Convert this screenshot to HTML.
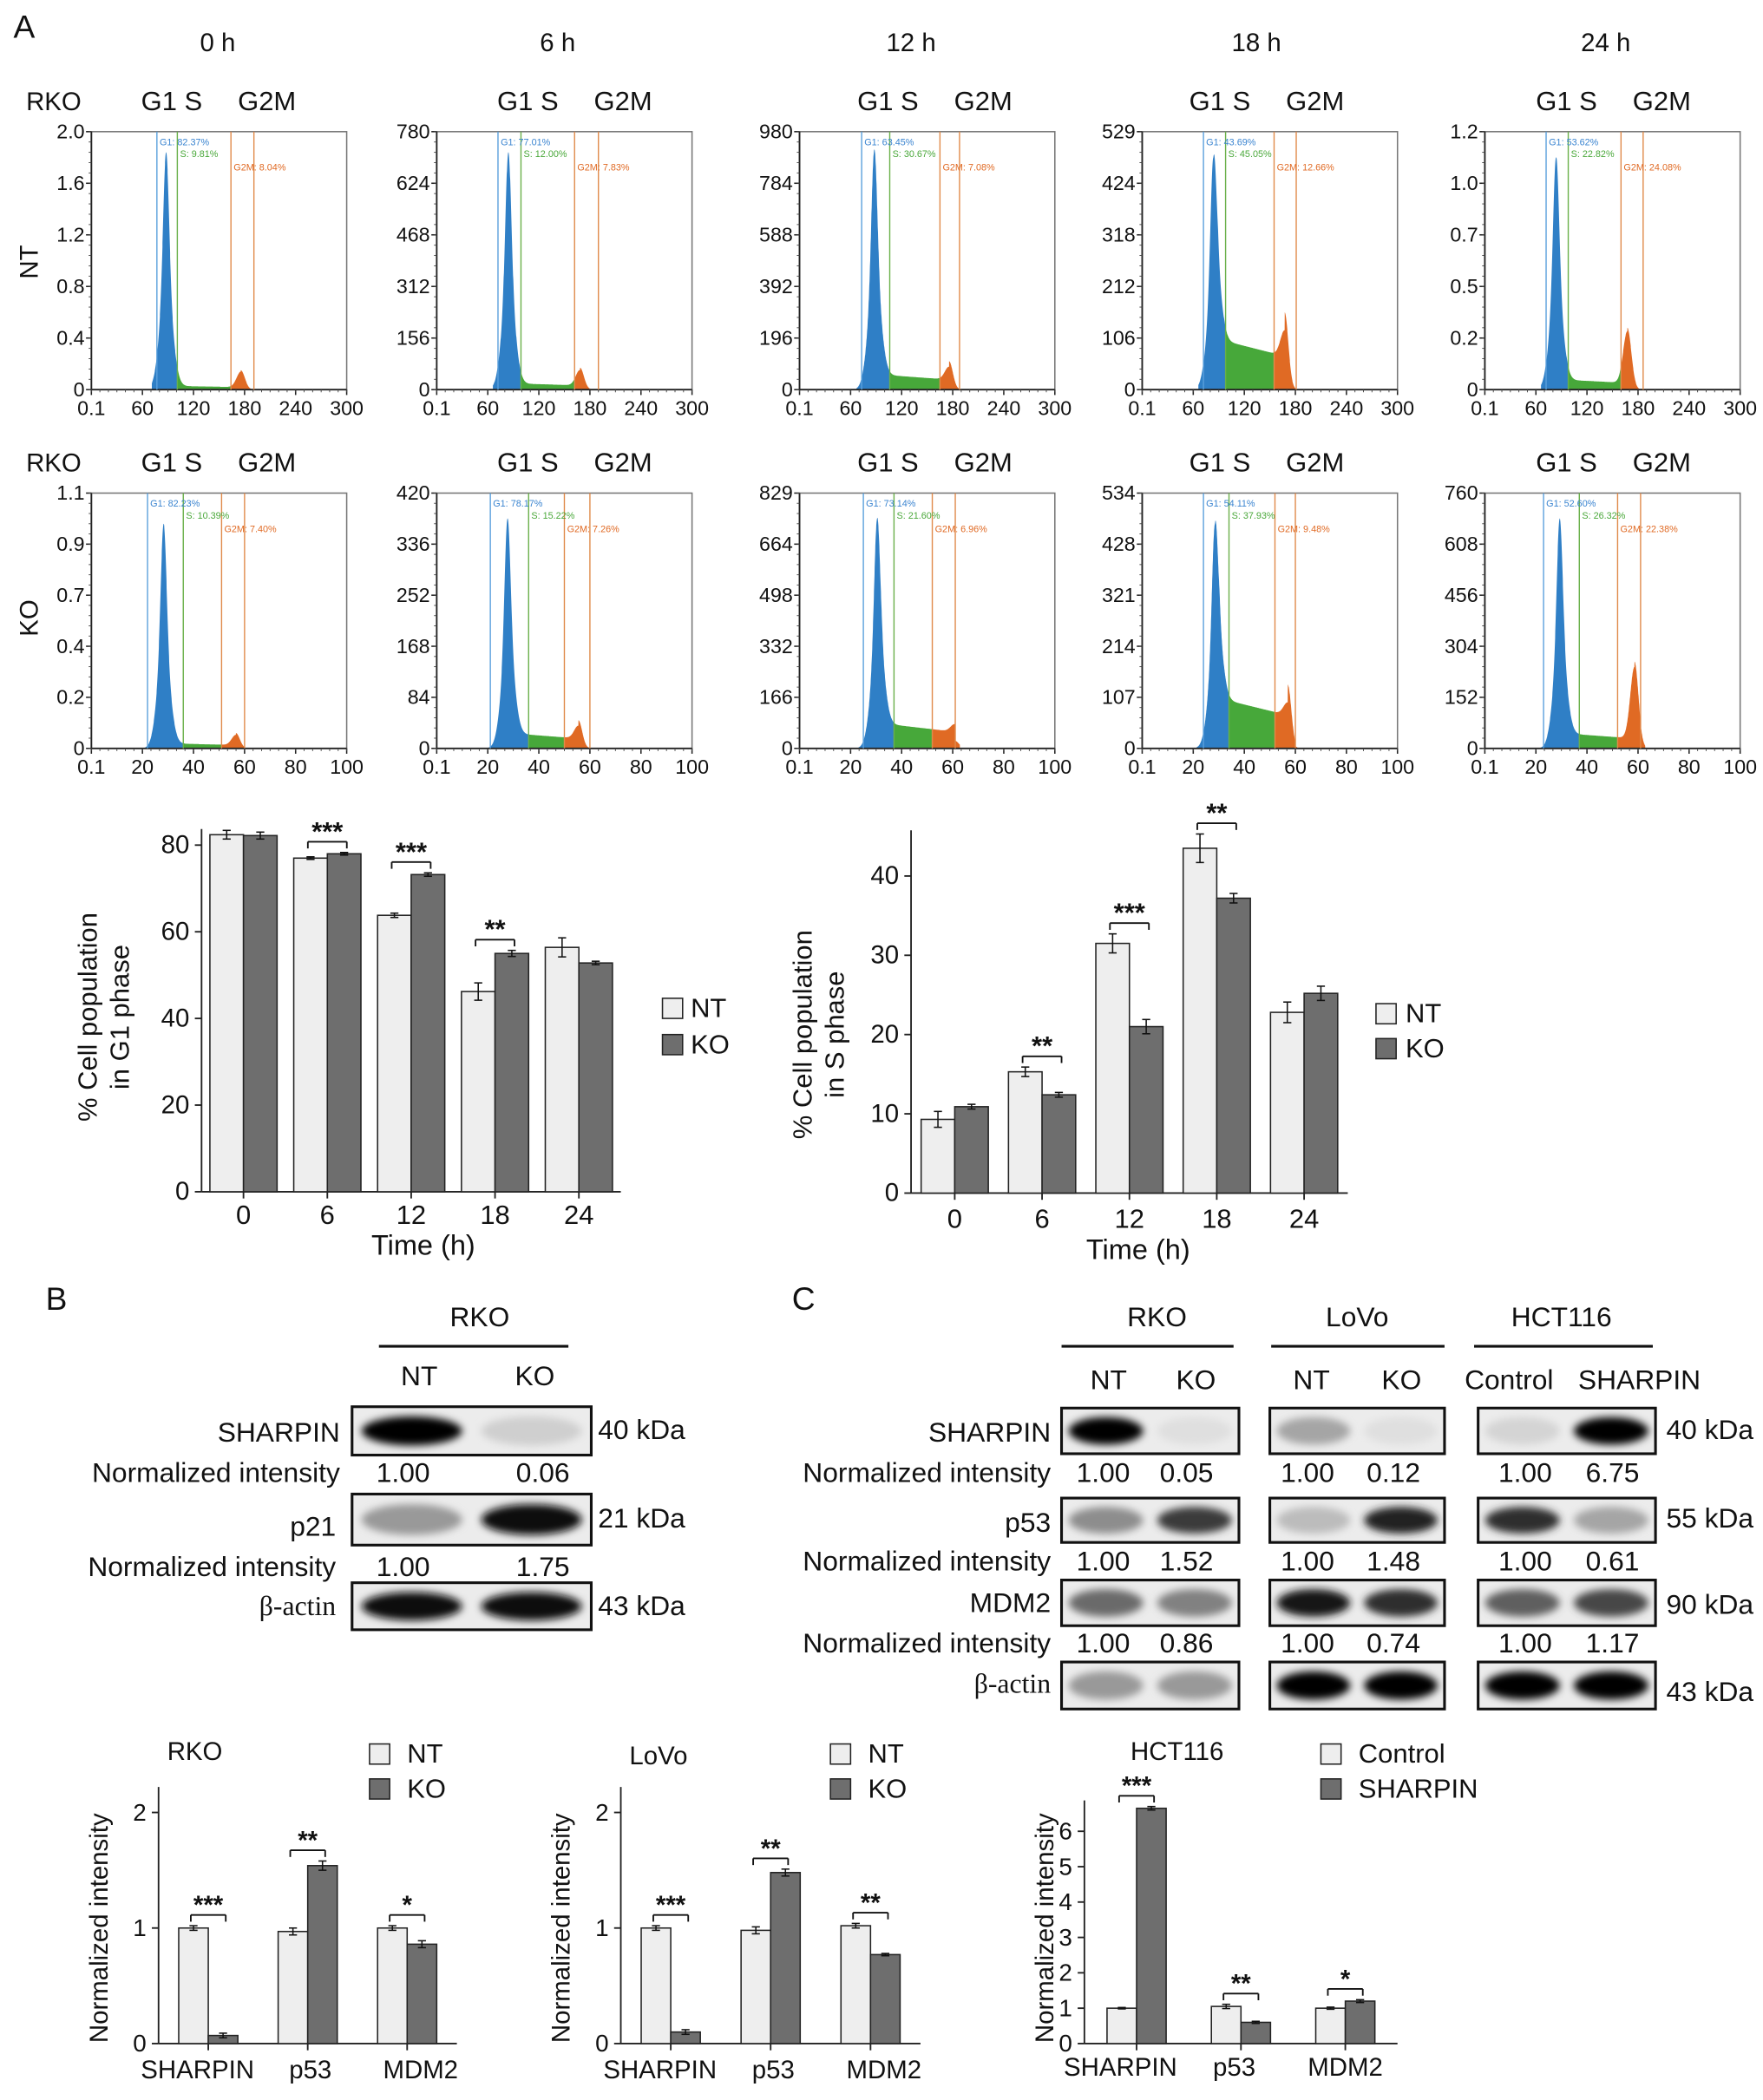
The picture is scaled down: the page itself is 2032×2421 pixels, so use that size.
<!DOCTYPE html>
<html><head><meta charset="utf-8">
<style>
html,body{margin:0;padding:0;background:#fff;}
svg{display:block;font-family:"Liberation Sans",sans-serif;}
text{fill:#111;}
</style></head>
<body>
<svg id="fig" width="2032" height="2421" viewBox="0 0 1312 1563" preserveAspectRatio="none" xmlns="http://www.w3.org/2000/svg">
<defs>
<filter id="blur" x="-30%" y="-50%" width="160%" height="200%"><feGaussianBlur stdDeviation="3"/></filter>
</defs>
</svg>
<script>
// ===== Histogram data =====
const timeLabels = ['0 h','6 h','12 h','18 h','24 h'];
const ntYTicks = [['0','0.4','0.8','1.2','1.6','2.0'],['0','156','312','468','624','780'],['0','196','392','588','784','980'],['0','106','212','318','424','529'],['0','0.2','0.5','0.7','1.0','1.2']];
const koYTicks = [['0','0.2','0.4','0.7','0.9','1.1'],['0','84','168','252','336','420'],['0','166','332','498','664','829'],['0','107','214','321','428','534'],['0','152','304','456','608','760']];
const ntXTicks = ['0.1','60','120','180','240','300'];
const koXTicks = ['0.1','20','40','60','80','100'];
const ntG1Peak = [0.92,0.92,0.93,0.90,0.90];
const ntSLevel = [0.015,0.025,0.06,0.2,0.04];
const ntG2Peak = [0.06,0.06,0.05,0.1,0.2];
const koG1Peak = [0.88,0.90,0.90,0.88,0.90];
const koSLevel = [0.02,0.06,0.1,0.2,0.06];
const koG2Peak = [0.04,0.05,0.03,0.05,0.28];
const ntGates = [[77,101,164,191],[72,99,162,190],[73,106,165,188],[72,98,155,181],[72,98,160,186]];
const koGates = [[22,36,51,60],[21,36,50,60],[25,37,52,61],[24,34,52,60],[23,37,52,61]];
const ntPct = [['82.37','9.81','8.04'],['77.01','12.00','7.83'],['63.45','30.67','7.08'],['43.69','45.05','12.66'],['53.62','22.82','24.08']];
const koPct = [['82.23','10.39','7.40'],['78.17','15.22','7.26'],['73.14','21.60','6.96'],['54.11','37.93','9.48'],['52.60','26.32','22.38']];

// ===== Bar chart data =====
const timeCats = ['0','6','12','18','24'];
const g1NT = [82.4,77.0,63.8,46.2,56.4];
const g1KO = [82.2,78.0,73.2,55.0,52.8];
const g1NTerr = [1.0,0.3,0.5,2.0,2.2];
const g1KOerr = [0.8,0.3,0.4,0.7,0.4];
const g1Sig = ['','***','***','**',''];
const g1Ticks = [0,20,40,60,80];
const sNT = [9.3,15.3,31.5,43.5,22.8];
const sKO = [10.9,12.4,21.0,37.2,25.2];
const sNTerr = [1.0,0.6,1.2,1.8,1.3];
const sKOerr = [0.3,0.3,0.9,0.6,0.9];
const sSig = ['','**','***','**',''];
const sTicks = [0,10,20,30,40];
const protCats = ['SHARPIN','p53','MDM2'];
const rkoNT = [1.00,0.97,1.00];
const rkoKO = [0.07,1.54,0.86];
const rkoNTerr = [0.02,0.03,0.02];
const rkoKOerr = [0.02,0.04,0.03];
const rkoSig = ['***','**','*'];
const lovoNT = [1.00,0.98,1.02];
const lovoKO = [0.10,1.48,0.77];
const lovoNTerr = [0.02,0.03,0.02];
const lovoKOerr = [0.02,0.03,0.01];
const lovoSig = ['***','**','**'];
const hctNT = [1.00,1.05,1.00];
const hctKO = [6.65,0.60,1.20];
const hctNTerr = [0.02,0.06,0.03];
const hctKOerr = [0.05,0.03,0.04];
const hctSig = ['***','**','*'];
const protTicks2 = [0,1,2];
const protTicks6 = [0,1,2,3,4,5,6];

const svg = document.getElementById('fig');
const NS = 'http://www.w3.org/2000/svg';
function mk(tag, attrs, parent, name){
  const el = document.createElementNS(NS, tag);
  for (const k in attrs) el.setAttribute(k, attrs[k]);
  
  
  (parent||svg).appendChild(el);
  return el;
}
function txt(x,y,s,size,anchor,name,extra){
  const a = {x:x,y:y,'font-size':size,'text-anchor':anchor||'middle'};
  if (extra) for (const k in extra) a[k]=extra[k];
  const t = mk('text',a,null,name);
  t.textContent = s;
  return t;
}
function line(x1,y1,x2,y2,w,c,name){
  return mk('line',{x1:x1,y1:y1,x2:x2,y2:y2,stroke:c||'#111','stroke-width':w||1},null,name);
}

txt(18,28,'A',24,'middle','panel-label-a');
txt(42,975,'B',24,'middle','panel-label-b');
txt(598,975,'C',24,'middle','panel-label-c');

// ===== Histograms =====
const colX = [68,325,595,850,1105];
const colW = 190;
const titleX = [162,415,678,935,1195];
const gsX = [105,370,638,885,1143];
timeLabels.forEach((t,i)=>txt(titleX[i],38,t,19,'middle','time-title-'+i));
txt(40,82,'RKO',19,'middle','rko-label-nt');
txt(40,351,'RKO',19,'middle','rko-label-ko');
txt(28,195,'NT',19,'middle','row-label-nt',{transform:'rotate(-90 28 195)'});
txt(28,460,'KO',19,'middle','row-label-ko',{transform:'rotate(-90 28 460)'});

function gauss(x,c,s){return Math.exp(-0.5*((x-c)/s)*((x-c)/s));}
function histogram(px,py,w,h,xmax,g1p,sl,g2p,gates,yt,xt,pct,tag){
  const c1 = gates[0]+ (gates[1]-gates[0])*0.45;
  const c2 = c1*2;
  const sig = xmax/110;
  const n = 200;
  const X = v=>px + v/xmax*w;
  const Y = f=>py+h - f*h;
  const val = v=>{
    let f = g1p*(0.55*gauss(v,c1,sig*1.2)+0.45*gauss(v,c1,sig*2.6));
    if (v>gates[0]-3 && v<gates[3]) f += sl*Math.min(1,Math.max(0,(v-c1)/(sig*2)))*(v<c2?(1-0.35*(v-c1)/(c2-c1)):gauss(v,c2,sig*1.5));
    f += g2p*gauss(v,c2,sig*1.8);
    if (v<gates[0]-sig*3 || v>gates[3]+sig*2) f*=0.05;
    return Math.min(f,0.98);
  };
  const regions = [[gates[0]-6,gates[1],'#2f7fc6','g1'],[gates[1],gates[2],'#47a83a','s'],[gates[2],gates[3]+4,'#e06a24','g2m']];
  regions.forEach(r=>{
    let pts = X(r[0]).toFixed(1)+','+Y(0).toFixed(1)+' ';
    for (let k=0;k<=n;k++){const v=r[0]+(r[1]-r[0])*k/n; pts+=X(v).toFixed(1)+','+Y(val(v)).toFixed(1)+' ';}
    pts += X(r[1]).toFixed(1)+','+Y(0).toFixed(1);
    mk('polygon',{points:pts,fill:r[2]},null,'histogram-'+r[3]+'-'+tag);
  });
  mk('rect',{x:px,y:py,width:w,height:h,fill:'none',stroke:'#777','stroke-width':1},null,'hist-frame-'+tag);
  line(px,py,px,py+h,1.2,'#222','hist-y-axis-'+tag);
  line(px,py+h,px+w,py+h,1.2,'#222','hist-x-axis-'+tag);
  const gc = ['#5aa0dc','#5aa0dc','#e08a4a','#e08a4a'];
  gates.forEach((g,k)=>line(X(g),py,X(g),py+h,0.9,k==1?'#6ab04a':gc[k],'gate-line-'+k+'-'+tag));
  txt(X(gates[0])+2,py+10,'G1: '+pct[0]+'%',7,'start','gate-label-g1-'+tag,{style:'fill:#3a84d0'});
  txt(X(gates[1])+2,py+19,'S: '+pct[1]+'%',7,'start','gate-label-s-'+tag,{style:'fill:#4aa83a'});
  txt(X(gates[2])+2,py+29,'G2M: '+pct[2]+'%',7,'start','gate-label-g2m-'+tag,{style:'fill:#e06a24'});
  yt.forEach((s,k)=>{
    const yy = py+h - k/(yt.length-1)*h;
    line(px-4,yy,px,yy,1,'#222','hist-ytick-'+tag);
    txt(px-5,yy+5,s,15,'end','hist-ytick-label-'+tag);
  });
  for(let k=0;k<=25;k++){const yy=py+h-k/25*h; line(px-2,yy,px,yy,0.6,'#444','hist-minor-ytick-'+tag);}
  xt.forEach((s,k)=>{
    const xx = px + k/(xt.length-1)*w;
    line(xx,py+h,xx,py+h+4,1,'#222','hist-xtick-'+tag);
    txt(xx,py+h+19,s,15,'middle','hist-xtick-label-'+tag);
  });
  for(let k=0;k<=30;k++){const xx=px+k/30*w; line(xx,py+h,xx,py+h+2,0.6,'#444','hist-minor-xtick-'+tag);}
}
for (let i=0;i<5;i++){
  txt(gsX[i],82,'G1 S',20,'start','phase-labels-nt-'+i);
  txt(gsX[i]+72,82,'G2M',20,'start','phase-label-g2m-nt-'+i);
  txt(gsX[i],351,'G1 S',20,'start','phase-labels-ko-'+i);
  txt(gsX[i]+72,351,'G2M',20,'start','phase-label-g2m-ko-'+i);
  histogram(colX[i],98,colW,192,300,ntG1Peak[i],ntSLevel[i],ntG2Peak[i],ntGates[i],ntYTicks[i],ntXTicks,ntPct[i],'nt-'+i);
  histogram(colX[i],367,colW,190,100,koG1Peak[i],koSLevel[i],koG2Peak[i],koGates[i],koYTicks[i],koXTicks,koPct[i],'ko-'+i);
}

// ===== Bar charts =====
function barChart(o){
  const Y = v=> o.y0 - v/o.vTop*(o.y0-o.yTop);
  const gap = (o.x1-o.x0)/o.cats.length;
  line(o.x0,o.axisTop,o.x0,o.y0,1.2,'#222',o.tag+'-y-axis');
  line(o.x0,o.y0,o.x1,o.y0,1.2,'#222',o.tag+'-x-axis');
  o.ticks.forEach(t=>{
    line(o.x0-5,Y(t),o.x0,Y(t),1.2,'#222',o.tag+'-ytick');
    txt(o.x0-9,Y(t)+6,String(t),o.fs,'end',o.tag+'-ytick-label');
  });
  o.cats.forEach((c,i)=>{
    const cx = o.x0 + gap*(i+0.5);
    line(cx,o.y0,cx,o.y0+5,1.2,'#222',o.tag+'-xtick');
    txt(cx+(o.labDx?o.labDx[i]:0),o.y0+o.labDy,c,o.fs+1,'middle',o.tag+'-xtick-label-'+i);
    const series = [[o.a,o.ae,'#eeeeee',-1],[o.b,o.be,'#6e6e6e',0]];
    series.forEach((s,k)=>{
      const v = s[0][i], e = s[1][i];
      const bx = cx + s[3]*o.bw;
      mk('rect',{x:bx,y:Y(v),width:o.bw,height:o.y0-Y(v),fill:s[2],stroke:'#222','stroke-width':1},null,o.tag+'-bar-'+(k?'b':'a')+'-'+i);
      const mx = bx+o.bw/2;
      line(mx,Y(v+e),mx,Y(v-e),1,'#111',o.tag+'-errbar');
      line(mx-3,Y(v+e),mx+3,Y(v+e),1,'#111',o.tag+'-errcap');
      line(mx-3,Y(v-e),mx+3,Y(v-e),1,'#111',o.tag+'-errcap');
    });
    if (o.sig[i]){
      const top = Math.min(Y(o.a[i]+o.ae[i]),Y(o.b[i]+o.be[i])) - 8;
      const l = cx-o.bw/2-2, r = cx+o.bw/2+2;
      line(l,top,r,top,1.2,'#111',o.tag+'-sig-bracket');
      line(l,top,l,top+5,1.2,'#111',o.tag+'-sig-bracket');
      line(r,top,r,top+5,1.2,'#111',o.tag+'-sig-bracket');
      txt(cx,top-1,o.sig[i],o.fs+1,'middle',o.tag+'-sig-stars',{'font-weight':'bold'});
    }
  });
}
barChart({tag:'g1-chart',x0:150,x1:462,y0:887,yTop:629,vTop:80,axisTop:617,cats:timeCats,a:g1NT,b:g1KO,ae:g1NTerr,be:g1KOerr,sig:g1Sig,ticks:g1Ticks,bw:25,fs:19,labDy:24});
txt(72,757,'% Cell population',20,'middle','g1-y-title-1',{transform:'rotate(-90 72 757)'});
txt(96,757,'in G1 phase',20,'middle','g1-y-title-2',{transform:'rotate(-90 96 757)'});
txt(315,934,'Time (h)',21,'middle','g1-x-title');
mk('rect',{x:493,y:743,width:15,height:15,fill:'#eee',stroke:'#222'},null,'g1-legend-nt-swatch');
txt(514,757,'NT',20,'start','g1-legend-nt');
mk('rect',{x:493,y:770,width:15,height:15,fill:'#6e6e6e',stroke:'#222'},null,'g1-legend-ko-swatch');
txt(514,784,'KO',20,'start','g1-legend-ko');

barChart({tag:'s-chart',x0:678,x1:1003,y0:888,yTop:652,vTop:40,axisTop:618,cats:timeCats,a:sNT,b:sKO,ae:sNTerr,be:sKOerr,sig:sSig,ticks:sTicks,bw:25,fs:19,labDy:26});
txt(604,770,'% Cell population',20,'middle','s-y-title-1',{transform:'rotate(-90 604 770)'});
txt(628,770,'in S phase',20,'middle','s-y-title-2',{transform:'rotate(-90 628 770)'});
txt(847,937,'Time (h)',21,'middle','s-x-title');
mk('rect',{x:1024,y:747,width:15,height:15,fill:'#eee',stroke:'#222'},null,'s-legend-nt-swatch');
txt(1046,761,'NT',20,'start','s-legend-nt');
mk('rect',{x:1024,y:773,width:15,height:15,fill:'#6e6e6e',stroke:'#222'},null,'s-legend-ko-swatch');
txt(1046,787,'KO',20,'start','s-legend-ko');

// ===== Blots =====
function blotBox(x,y,w,h,intens,name){
  mk('rect',{x:x,y:y,width:w,height:h,fill:'#ececec'},null,name+'-bg');
  intens.forEach((v,k)=>{
    const cx = x + w*(k*2+1)/4;
    const g = Math.round(235 - v*235);
    mk('ellipse',{cx:cx,cy:y+h/2,rx:w*0.21,ry:h*0.3,fill:'rgb('+g+','+g+','+g+')',filter:'url(#blur)'},null,name+'-band-'+k);
  });
  mk('rect',{x:x,y:y,width:w,height:h,fill:'none',stroke:'#111','stroke-width':2},null,name+'-frame');
}
const BF = 20.5;
txt(357,987,'RKO',BF,'middle','b-cell-line-rko');
line(282,1002,423,1002,2,'#111','b-rko-line');
txt(312,1031,'NT',BF,'middle','b-lane-nt');
txt(398,1031,'KO',BF,'middle','b-lane-ko');
blotBox(262,1047,178,36,[1.0,0.12],'b-sharpin-blot');
txt(253,1073,'SHARPIN',BF,'end','b-sharpin-label');
txt(445,1071,'40 kDa',BF,'start','b-sharpin-kda');
txt(253,1103,'Normalized intensity',BF,'end','b-ni-label-1');
txt(300,1103,'1.00',BF,'middle','b-ni-1-nt');
txt(404,1103,'0.06',BF,'middle','b-ni-1-ko');
blotBox(262,1112,178,38,[0.35,0.95],'b-p21-blot');
txt(250,1143,'p21',BF,'end','b-p21-label');
txt(445,1137,'21 kDa',BF,'start','b-p21-kda');
txt(250,1173,'Normalized intensity',BF,'end','b-ni-label-2');
txt(300,1173,'1.00',BF,'middle','b-ni-2-nt');
txt(404,1173,'1.75',BF,'middle','b-ni-2-ko');
blotBox(262,1178,178,35,[0.95,0.95],'b-actin-blot');
txt(250,1202,'β-actin',BF,'end','b-actin-label',{'font-family':'Liberation Serif, serif'});
txt(445,1202,'43 kDa',BF,'start','b-actin-kda');

const cLines = [['RKO',861,790,918],['LoVo',1010,946,1075],['HCT116',1162,1097,1230]];
cLines.forEach((c,i)=>{ txt(c[1],987,c[0],BF,'middle','c-cell-line-'+i); line(c[2],1002,c[3],1002,2,'#111','c-line-'+i); });
const cLanes = [['NT',825],['KO',890],['NT',976],['KO',1043],['Control',1123],['SHARPIN',1220]];
cLanes.forEach((l,i)=>txt(l[1],1034,l[0],BF,'middle','c-lane-'+i));
const cBoxX = [[790,132],[945,130],[1100,132]];
const cRows = [['SHARPIN',1048,34,1073,[[1.0,0.05],[0.3,0.05],[0.1,1.0]]],['p53',1115,33,1140,[[0.4,0.75],[0.2,0.85],[0.8,0.3]]],['MDM2',1176,34,1200,[[0.55,0.45],[0.9,0.8],[0.6,0.7]]],['β-actin',1237,35,1260,[[0.35,0.35],[1.0,1.0],[1.0,1.0]]]];
cRows.forEach((r,i)=>{
  cBoxX.forEach((b,k)=>blotBox(b[0],r[1],b[1],r[2],r[4][k],'c-blot-'+i+'-'+k));
  txt(782,r[3],r[0],BF,'end','c-row-label-'+i,i==3?{'font-family':'Liberation Serif, serif'}:null);
});
const cKda = [['40 kDa',1071],['55 kDa',1137],['90 kDa',1201],['43 kDa',1266]];
cKda.forEach((k,i)=>txt(1240,k[1],k[0],BF,'start','c-kda-'+i));
const cNI = [[1103,['1.00','0.05','1.00','0.12','1.00','6.75']],[1169,['1.00','1.52','1.00','1.48','1.00','0.61']],[1230,['1.00','0.86','1.00','0.74','1.00','1.17']]];
const cNIx = [821,883,973,1037,1135,1200];
cNI.forEach((r,i)=>{
  txt(782,r[0],'Normalized intensity',BF,'end','c-ni-label-'+i);
  r[1].forEach((v,k)=>txt(cNIx[k],r[0],v,BF,'middle','c-ni-value-'+i+'-'+k));
});

// ===== Bottom quantification charts =====
function legend2(x,y,a,b,tag){
  mk('rect',{x:x,y:y-13,width:15,height:15,fill:'#eee',stroke:'#222'},null,tag+'-legend-a-swatch');
  txt(x+28,y+1,a,20,'start',tag+'-legend-a');
  mk('rect',{x:x,y:y+13,width:15,height:15,fill:'#6e6e6e',stroke:'#222'},null,tag+'-legend-b-swatch');
  txt(x+28,y+27,b,20,'start',tag+'-legend-b');
}
txt(145,1310,'RKO',19,'middle','rko-chart-title');
legend2(275,1311,'NT','KO','rko-chart');
barChart({tag:'rko-chart',x0:118,x1:340,y0:1521,yTop:1349,vTop:2,axisTop:1330,cats:protCats,a:rkoNT,b:rkoKO,ae:rkoNTerr,be:rkoKOerr,sig:rkoSig,ticks:protTicks2,bw:22,fs:18,labDy:26,labDx:[-8,2,10]});
txt(80,1435,'Normalized intensity',19,'middle','rko-chart-y-title',{transform:'rotate(-90 80 1435)'});

txt(490,1313,'LoVo',19,'middle','lovo-chart-title');
legend2(618,1311,'NT','KO','lovo-chart');
barChart({tag:'lovo-chart',x0:462,x1:685,y0:1521,yTop:1349,vTop:2,axisTop:1330,cats:protCats,a:lovoNT,b:lovoKO,ae:lovoNTerr,be:lovoKOerr,sig:lovoSig,ticks:protTicks2,bw:22,fs:18,labDy:26,labDx:[-8,2,10]});
txt(424,1435,'Normalized intensity',19,'middle','lovo-chart-y-title',{transform:'rotate(-90 424 1435)'});

txt(876,1310,'HCT116',19,'middle','hct-chart-title');
legend2(983,1311,'Control','SHARPIN','hct-chart');
barChart({tag:'hct-chart',x0:807,x1:1040,y0:1521,yTop:1363,vTop:6,axisTop:1340,cats:protCats,a:hctNT,b:hctKO,ae:hctNTerr,be:hctKOerr,sig:hctSig,ticks:protTicks6,bw:22,fs:18,labDy:24,labDx:[-12,-5,0]});
txt(784,1435,'Normalized intensity',19,'middle','hct-chart-y-title',{transform:'rotate(-90 784 1435)'});
</script>
</body></html>
